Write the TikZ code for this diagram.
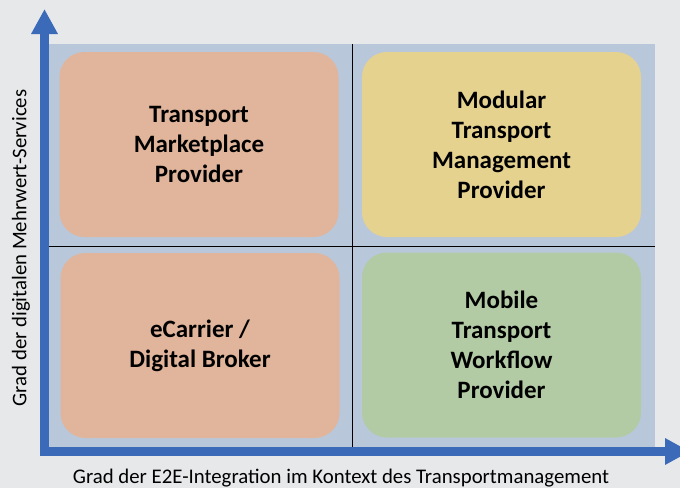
\documentclass[tikz,border=0pt]{standalone}
\usepackage{fontspec}
\setmainfont{Carlito}
\usepackage{tikz}
\usetikzlibrary{positioning,calc,arrows.meta}
\usepackage{xcolor}
\definecolor{bggray}{RGB}{231,232,234}
\definecolor{panelblue}{RGB}{185,199,218}
\definecolor{axisblue}{RGB}{58,106,184}
\definecolor{quadorange}{RGB}{224,181,155}
\definecolor{quadyellow}{RGB}{229,210,143}
\definecolor{quadgreen}{RGB}{178,203,165}

\begin{document}
\begin{tikzpicture}[x=1pt, y=-1pt,
    quadbox/.style={rounded corners=25pt, minimum width=279pt, minimum height=185pt,
        align=center, font=\fontsize{25}{30}\selectfont\bfseries, text=black},
    axislabel/.style={font=\fontsize{20.8}{24}\selectfont, text=black}]
% Canvas
\fill[bggray] (0,0) rectangle (680,488);
\clip (0,0) rectangle (680,488);

% Panel and quadrant lines
\fill[panelblue] (49,44) rectangle (655,448);
\draw[black, line width=0.8pt] (352,44) -- (352,448);
\draw[black, line width=0.8pt] (49,246) -- (655,246);

% Quadrants
\node[quadbox, fill=quadorange] (tpm) at (199,144.5) {Transport\\Marketplace\\Provider};
\node[quadbox, fill=quadyellow] (mtm) at (501.5,144.5) {Modular\\Transport\\Management\\Provider};
\node[quadbox, fill=quadorange] (ecb) at (200,345.5) {eCarrier /\\Digital Broker};
\node[quadbox, fill=quadgreen] (mtw) at (501.5,345) {Mobile\\Transport\\Workflow\\Provider};

% Axes
\coordinate (origin) at (44.5,451.5);
\coordinate (ytip) at (44.5,9);
\coordinate (xtip) at (690,451.5);
\draw[axisblue, line width=8.5pt, line join=miter,
    {Triangle[length=25pt,width=25pt]}-{Triangle[length=25pt,width=25pt]}]
    (ytip) -- (origin) -- (xtip);

% Labels
\node[axislabel] (xlab) at (341,478.5) {Grad der E2E-Integration im Kontext des Transportmanagement};
\node[axislabel, rotate=90] (ylab) at (21,248) {Grad der digitalen Mehrwert-Services};
\end{tikzpicture}
\end{document}
